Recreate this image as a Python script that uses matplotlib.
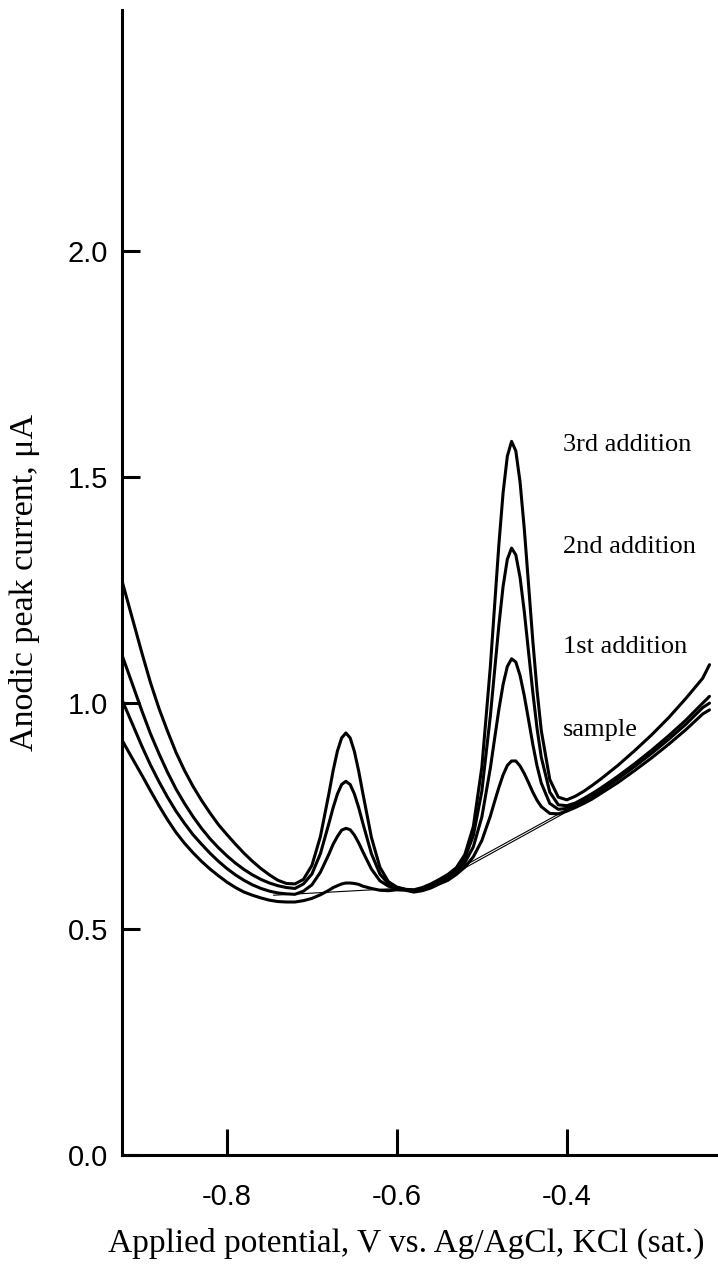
import matplotlib
matplotlib.use("Agg")
import matplotlib.pyplot as plt

# applied potential (V) - shared grid
potential = [-0.9235, -0.91, -0.90, -0.89, -0.88, -0.87, -0.86, -0.85, -0.84, -0.83,
             -0.82, -0.81, -0.80, -0.79, -0.78, -0.77, -0.76, -0.75, -0.74, -0.73,
             -0.72, -0.71, -0.70, -0.69, -0.68, -0.675, -0.67, -0.665, -0.66, -0.655,
             -0.65, -0.645, -0.64, -0.63, -0.62, -0.61, -0.60, -0.59, -0.58, -0.57,
             -0.56, -0.55, -0.54, -0.53, -0.52, -0.51, -0.50, -0.49, -0.485, -0.48,
             -0.475, -0.47, -0.465, -0.46, -0.455, -0.45, -0.445, -0.44, -0.435, -0.43,
             -0.42, -0.41, -0.40, -0.39, -0.38, -0.37, -0.36, -0.34, -0.32, -0.30,
             -0.28, -0.26, -0.24, -0.232]

# anodic peak current (uA)
third_add = [1.27, 1.178, 1.11, 1.045, 0.988, 0.938, 0.891, 0.851, 0.816, 0.785,
             0.757, 0.731, 0.709, 0.688, 0.668, 0.65, 0.634, 0.62, 0.608, 0.601,
             0.60, 0.61, 0.641, 0.705, 0.80, 0.851, 0.894, 0.923, 0.934, 0.923,
             0.893, 0.85, 0.80, 0.703, 0.637, 0.605, 0.593, 0.588, 0.587, 0.592,
             0.60, 0.61, 0.621, 0.636, 0.665, 0.727, 0.858, 1.08, 1.215, 1.349,
             1.465, 1.546, 1.579, 1.558, 1.489, 1.385, 1.262, 1.138, 1.028, 0.939,
             0.831, 0.792, 0.786, 0.794, 0.805, 0.818, 0.832, 0.862, 0.895, 0.93,
             0.968, 1.01, 1.055, 1.085]
second_add = [1.106, 1.035, 0.982, 0.932, 0.888, 0.847, 0.81, 0.778, 0.749, 0.723,
              0.70, 0.68, 0.662, 0.646, 0.632, 0.62, 0.61, 0.602, 0.596, 0.592,
              0.59, 0.60, 0.622, 0.667, 0.734, 0.769, 0.799, 0.82, 0.827, 0.82,
              0.799, 0.769, 0.734, 0.667, 0.622, 0.60, 0.592, 0.588, 0.586, 0.59,
              0.598, 0.608, 0.619, 0.633, 0.657, 0.707, 0.805, 0.971, 1.071, 1.171,
              1.258, 1.318, 1.343, 1.328, 1.278, 1.202, 1.113, 1.024, 0.944, 0.88,
              0.803, 0.775, 0.773, 0.779, 0.789, 0.80, 0.812, 0.838, 0.866, 0.896,
              0.928, 0.962, 1.0, 1.015]
first_add = [1.007, 0.948, 0.904, 0.863, 0.826, 0.792, 0.761, 0.734, 0.709, 0.688,
             0.668, 0.65, 0.634, 0.62, 0.608, 0.598, 0.59, 0.584, 0.58, 0.578,
             0.577, 0.584, 0.598, 0.626, 0.666, 0.688, 0.705, 0.719, 0.723, 0.72,
             0.708, 0.691, 0.671, 0.633, 0.607, 0.595, 0.59, 0.587, 0.584, 0.587,
             0.594, 0.603, 0.613, 0.627, 0.647, 0.682, 0.748, 0.856, 0.921, 0.985,
             1.041, 1.081, 1.098, 1.091, 1.061, 1.016, 0.963, 0.909, 0.861, 0.823,
             0.778, 0.765, 0.767, 0.774, 0.784, 0.794, 0.806, 0.832, 0.86, 0.889,
             0.92, 0.953, 0.99, 1.0]
sample = [0.918, 0.873, 0.84, 0.806, 0.773, 0.742, 0.714, 0.69, 0.669, 0.65,
          0.633, 0.618, 0.604, 0.592, 0.582, 0.575, 0.569, 0.564, 0.561, 0.56,
          0.56, 0.563, 0.568, 0.576, 0.586, 0.592, 0.596, 0.60, 0.602, 0.602,
          0.601, 0.599, 0.595, 0.59, 0.586, 0.585, 0.587, 0.586, 0.582, 0.585,
          0.591, 0.60, 0.608, 0.621, 0.637, 0.66, 0.696, 0.75, 0.782, 0.813,
          0.841, 0.862, 0.872, 0.872, 0.861, 0.844, 0.824, 0.803, 0.785, 0.771,
          0.756, 0.755, 0.761, 0.769, 0.778, 0.788, 0.80, 0.824, 0.851, 0.879,
          0.909, 0.941, 0.976, 0.985]

# thin baselines drawn under the peaks
base_x = [[-0.745, -0.60], [-0.55, -0.385], [-0.53, -0.39]]
base_y = [[0.575, 0.59], [0.61, 0.78], [0.625, 0.77]]

labels = ["3rd addition", "2nd addition", "1st addition", "sample"]
label_y = [1.571, 1.345, 1.124, 0.94]
label_x = -0.405

serif = "Liberation Serif"
narrow = ["Liberation Sans Narrow", "Liberation Sans"]

fig = plt.figure(figsize=(7.18, 12.68), dpi=100)
ax = fig.add_axes([0.17, 0.089, 0.83, 0.903])

for ys in [third_add, second_add, first_add, sample]:
    ax.plot(potential, ys, color="black", linewidth=2.2, solid_capstyle="round")
for bx, by in zip(base_x, base_y):
    ax.plot(bx, by, color="black", linewidth=0.8)

for lab, ly in zip(labels, label_y):
    ax.text(label_x, ly, lab, fontsize=19, family=serif, va="center", ha="left")

ax.set_xlim(-0.9235, -0.222)
ax.set_ylim(0, 2.533)
ax.set_xticks([-0.8, -0.6, -0.4])
ax.set_xticklabels(["-0.8", "-0.6", "-0.4"])
ax.set_yticks([0.0, 0.5, 1.0, 1.5, 2.0])
ax.set_yticklabels(["0.0", "0.5", "1.0", "1.5", "2.0"])

ax.spines["top"].set_visible(False)
ax.spines["right"].set_visible(False)
ax.spines["left"].set_linewidth(2.2)
ax.spines["bottom"].set_linewidth(2.2)
ax.tick_params(axis="x", direction="in", length=19, width=2.2, pad=20, labelsize=21)
ax.tick_params(axis="y", direction="in", length=13, width=2.2, pad=10, labelsize=21)
for t in ax.get_xticklabels() + ax.get_yticklabels():
    t.set_family(narrow)

ax.set_xlabel("Applied potential, V vs. Ag/AgCl, KCl (sat.)", family=serif,
              fontsize=24, labelpad=14)
ax.xaxis.set_label_coords(0.477, -0.063)
ax.set_ylabel("Anodic peak current, \u03bcA", family=serif, fontsize=24.5, labelpad=20)

fig.savefig("out.png", dpi=100)
